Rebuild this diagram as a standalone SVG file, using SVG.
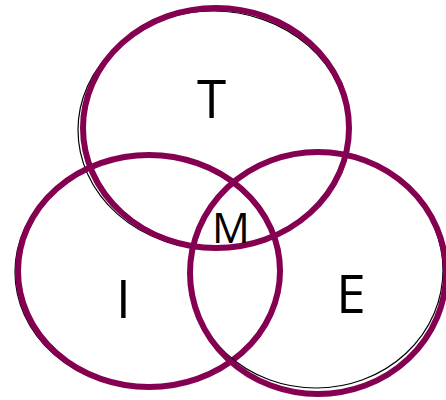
<svg xmlns="http://www.w3.org/2000/svg" width="446" height="400" viewBox="0 0 446 400">
<style>
.sk{fill:none;stroke:#000;stroke-width:1.2}
.c{fill:none;stroke:#850050;stroke-width:6}
.t{font-family:"Open Sans","Liberation Sans",sans-serif;fill:#000;text-anchor:middle}
</style>
<rect width="446" height="400" fill="#fff"/>
<g id="T">
<ellipse class="sk" cx="213" cy="130" rx="135" ry="119"/>
<ellipse class="c" cx="216" cy="128" rx="133" ry="120"/>
<text class="t" x="211.5" y="118" font-size="53">T</text>
</g>
<g id="I">
<ellipse class="sk" cx="147" cy="272" rx="132" ry="116"/>
<ellipse class="c" cx="149" cy="271" rx="131" ry="116"/>
<text class="t" x="123.5" y="318" font-size="53">I</text>
</g>
<g id="E">
<ellipse class="sk" cx="316" cy="270" rx="127" ry="118"/>
<ellipse class="c" cx="318" cy="273" rx="128" ry="121"/>
<text class="t" x="351" y="313" font-size="53">E</text>
</g>
<g id="M">
<text class="t" x="231" y="243" font-size="42">M</text>
</g>
</svg>
